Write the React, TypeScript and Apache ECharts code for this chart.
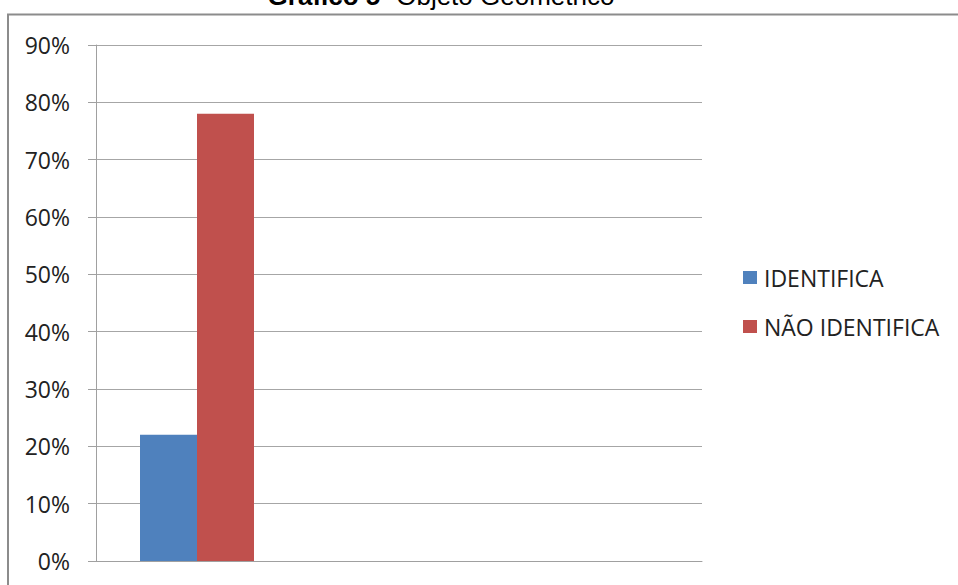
import React, { useEffect, useRef } from "react";
import * as echarts from "echarts";

const categories = ["", "", ""];
const identifica = [22, null, null];
const naoIdentifica = [78, null, null];
const seriesNames = ["IDENTIFICA", "NÃO IDENTIFICA"];
const titleBold = "Gráfico 5-";
const titleRest = " Objeto Geométrico";

export default function App() {
  const ref = useRef<HTMLDivElement>(null);
  useEffect(() => {
    if (!ref.current) return;
    const chart = echarts.init(ref.current, null, { renderer: "svg" });
    chart.setOption({
      animation: false,
      backgroundColor: "#ffffff",
      graphic: [
        {
          type: "rect",
          shape: { x: 8, y: 14.5, width: 1000, height: 700 },
          style: { fill: "none", stroke: "#8c8c8c", lineWidth: 2 },
          silent: true,
        },
        {
          type: "text",
          x: 441,
          y: -4,
          style: {
            text: "{b|" + titleBold + "}{r|" + titleRest + "}",
            align: "center",
            verticalAlign: "middle",
            rich: {
              b: { fontFamily: "Liberation Sans", fontWeight: "bold", fontSize: 26, fill: "#000" },
              r: { fontFamily: "Liberation Sans", fontSize: 26, fill: "#000" },
            },
          },
        },
      ],
      grid: { left: 96, right: 256, top: 45, bottom: 24, containLabel: false },
      legend: {
        orient: "vertical",
        left: 743,
        top: 266,
        padding: 0,
        itemWidth: 14,
        itemHeight: 13,
        itemGap: 26,
        icon: "rect",
        textStyle: {
          fontFamily: "Open Sans",
          fontSize: 23,
          lineHeight: 23,
          color: "#222",
          padding: [0, 0, 0, 2],
        },
        data: seriesNames,
      },
      xAxis: {
        type: "category",
        data: categories,
        axisLine: { show: true, lineStyle: { color: "#a0a0a0", width: 1 } },
        axisTick: { show: false },
        axisLabel: { show: false },
      },
      yAxis: {
        type: "value",
        min: 0,
        max: 90,
        interval: 10,
        axisLine: { show: true, lineStyle: { color: "#a0a0a0", width: 1 } },
        axisTick: { show: true, length: 8, lineStyle: { color: "#a0a0a0" } },
        splitLine: { show: true, lineStyle: { color: "#a6a6a6", width: 1 } },
        axisLabel: {
          formatter: "{value}%",
          fontFamily: "Open Sans",
          fontSize: 23,
          color: "#222",
          margin: 26,
        },
      },
      series: [
        {
          name: seriesNames[0],
          type: "bar",
          data: identifica,
          barWidth: 57,
          barGap: "0%",
          itemStyle: { color: "#4f81bd" },
        },
        {
          name: seriesNames[1],
          type: "bar",
          data: naoIdentifica,
          barWidth: 57,
          barGap: "0%",
          itemStyle: { color: "#c0504d" },
        },
      ],
    });
    return () => chart.dispose();
  }, []);
  return (
    <div
      ref={ref}
      style={{ position: "fixed", left: 0, top: 0, width: 958, height: 585 }}
    />
  );
}
